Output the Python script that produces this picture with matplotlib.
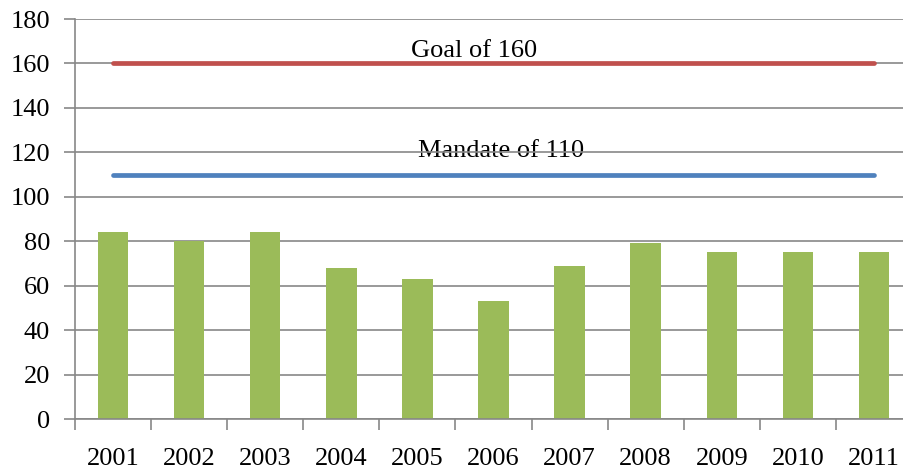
import matplotlib
matplotlib.use("Agg")
import matplotlib.pyplot as plt
import numpy as np

years = ["2001", "2002", "2003", "2004", "2005", "2006", "2007", "2008", "2009", "2010", "2011"]
values = [84, 80, 84, 68, 63, 53, 69, 79, 75, 75, 75]
goal = 160
mandate = 110
goal_label = "Goal of 160"
mandate_label = "Mandate of 110"

plt.rcParams['font.family'] = ['Liberation Serif', 'DejaVu Serif']

W, H = 904, 472
fig = plt.figure(figsize=(W / 100, H / 100), dpi=100)
ax = fig.add_axes([75 / W, 53 / H, 837 / W, 400 / H])

x = np.arange(len(years))
ax.bar(x, values, width=0.4, color="#9BBB59", zorder=1)
ax.plot([x[0], x[-1]], [goal] * 2, color="#C0504D", lw=3.4, solid_capstyle="round", zorder=2)
ax.plot([x[0], x[-1]], [mandate] * 2, color="#4F81BD", lw=3.4, solid_capstyle="round", zorder=2)

ax.text(4.75, goal + 3.0, goal_label, ha="center", va="baseline", fontsize=19, zorder=0.4)
ax.text(5.1, mandate + 8.0, mandate_label, ha="center", va="baseline", fontsize=19, zorder=0.4)

ax.set_xlim(-0.5, len(years) - 0.5)
ax.set_ylim(0, 180)
ax.set_yticks(np.arange(0, 181, 20))
ax.set_xticks(x)
ax.set_xticklabels(years)
ax.set_xticks(np.arange(-0.5, len(years), 1), minor=True)
ax.tick_params(axis="x", which="major", length=0, pad=21, labelsize=19)
ax.tick_params(axis="x", which="minor", length=8, width=1.2, color="#878787", direction="out")
ax.tick_params(axis="y", length=8, width=1.2, color="#878787", pad=10, labelsize=19)

ax.set_axisbelow(True)
ax.yaxis.grid(True, color="#878787", lw=1.2)
for s in ["top", "right"]:
    ax.spines[s].set_visible(False)
for s in ["left", "bottom"]:
    ax.spines[s].set_color("#878787")
    ax.spines[s].set_linewidth(1.2)

fig.savefig("out.png", dpi=100)
